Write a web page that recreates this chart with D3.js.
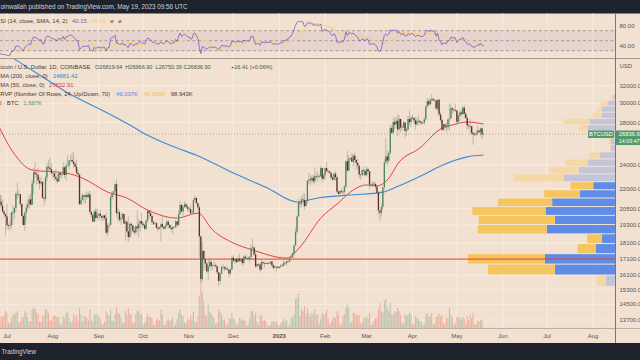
<!DOCTYPE html>
<html><head><meta charset="utf-8">
<script src="https://cdn.jsdelivr.net/npm/d3@7"></script>
<style>html,body{margin:0;padding:0;background:#1e222d;overflow:hidden}</style>
</head><body><svg id="c" width="640" height="360"></svg>
<script>
// ---------------- DATA ----------------
const startDate = "2022-06-24";           // first daily candle
const firstOpen = 21100;
const closes = [
 21230,21500,21030,20730,20280,20100,19930,
 19300,19250,19300,20200,20190,20550,21620,21590,21590,20850,19960,19320,20210,20580,20830,21200,20790,22450,23380,23230,23160,22690,22450,22580,21310,21250,22950,23850,23780,23640,23300,
 23270,22990,22820,22620,23310,23170,23180,23810,23150,23950,23950,24400,24440,24300,24100,23850,23340,23200,20830,21140,21520,21400,21530,21370,21580,20260,20040,19550,20290,19810,20050,
 20130,19950,19830,20000,19800,18790,19290,19320,21370,21650,21830,22400,20170,20230,19700,19800,20110,19420,19540,18880,18490,19400,19300,18920,18800,19220,19080,19410,19590,19420,
 19310,19060,19630,20340,20160,19960,19530,19420,19450,19130,19060,19150,19380,19180,19070,19270,19550,19330,19120,19040,19170,19200,19570,19330,20090,20770,20290,20600,20820,20630,20490,
 20480,20160,20210,21150,21300,20910,20590,18540,15880,17590,17070,16810,16330,16620,16900,16660,16690,16700,16640,16280,15780,16210,16600,16600,16520,16460,16440,16210,16440,17160,
 16980,17090,16890,17110,16970,17090,16840,17230,17130,17130,17090,17210,17780,17810,17360,16630,16780,16740,16440,16900,16830,16820,16780,16840,16830,16920,16700,16550,16630,16600,16540,
 16620,16680,16670,16850,16830,16950,16940,17130,17180,17440,17940,18850,19930,20950,20870,21190,21140,20680,21080,22670,22780,22710,22920,22630,23060,23010,23080,23030,23740,22830,23130,
 23730,23490,23430,23330,22930,22760,23260,22960,21800,21630,21860,21790,21780,22200,24330,23520,24570,24630,24280,24830,24440,24190,23950,23190,23160,23560,23490,23140,
 23650,23470,22360,22350,22430,22410,22200,21710,20360,20190,20630,22140,24200,24760,24380,25060,27430,26970,28040,27780,28170,27300,28350,27480,27490,27990,27140,27270,28350,28030,28480,
 28460,28200,27800,28170,28170,28030,27920,27950,28330,29650,30230,29880,30390,30480,30320,30320,29440,30400,28820,28250,27260,27820,27590,27520,28310,28420,29480,29330,29240,29230,
 28070,28670,29030,28850,29530,28900,28450,27690,27630,27620,26980,26800,26780,26930,27190,27030,27400,26819.64,26836.90
];
const highs = [
 21520,21580,21860,21520,21180,20400,20140,
 20870,19430,19650,20320,20730,20660,21830,22520,21950,21600,20870,20040,20260,20870,21200,21560,21670,22770,23760,24280,23440,23770,22980,23000,22660,21370,23100,24170,24450,24650,24190,
 23500,23450,23650,23230,23460,23360,23400,24230,23930,24220,24900,24450,24880,25050,25210,24250,24450,23600,23200,21370,21700,21520,21680,21820,21800,21850,20360,20150,20420,20580,20490,
 20200,20450,20000,20030,20050,20180,19460,19440,21510,21800,21850,22490,22790,20550,20380,19900,20190,20110,19690,19640,19950,19500,19500,19320,19190,19310,20380,19780,19640,20180,
 19480,19400,19720,20480,20360,20460,20060,19600,19550,19530,19260,19220,19510,19960,19230,19410,19680,19700,19360,19340,19250,19250,19690,19600,20400,21020,20870,20750,21080,20930,20840,
 20690,20790,20390,21290,21480,21370,20940,20700,18590,18150,17650,17070,16880,17190,17130,17010,16740,16950,16800,16730,16310,16260,16680,16800,16610,16690,16600,16480,16530,17250,
 17320,17110,17150,17200,17420,17110,17140,17300,17350,17220,17270,17240,18000,18390,17850,17530,16800,16820,16820,17060,16910,16860,16950,16870,16860,16940,16970,16780,16660,16630,16640,
 16630,16780,16760,16990,16880,16980,16970,17170,17390,17490,17990,19100,19980,21260,21000,21480,21620,21650,21190,22740,23370,23080,23170,23130,23790,23280,23490,23160,23950,23820,23300,
 23800,24250,23600,23550,23440,23150,23360,23450,23000,21900,21900,22070,21900,22320,24370,25250,24900,24690,25090,25000,25130,24480,24600,23890,23200,23670,23890,23600,
 23900,23790,23480,22410,22620,22600,22540,22280,21820,20370,20860,22170,24570,26500,25270,25200,27760,27740,28450,28550,28500,28800,28750,28390,27790,28200,28020,27500,28650,29170,28650,
 28800,28530,28490,28440,28770,28190,28110,28170,28530,29770,30550,30480,30600,31000,30600,30550,30320,30490,30420,29100,28370,27880,27820,28000,28390,30020,29890,29590,29450,29960,
 29340,28890,29270,29380,29700,29840,29070,28650,27830,28320,27640,27050,26990,27200,27660,27270,27480,27480,26966.90
];
const lows = [
 20910,20880,20970,20520,20200,19850,18630,
 19000,19000,18960,19050,19310,19770,20240,21200,21340,20660,19900,19250,18910,19640,20390,20500,20760,20760,21600,22930,22350,22400,21960,22300,21260,20720,21040,22600,23450,23500,23250,
 22850,22660,22700,22440,22600,22930,22850,23150,22880,22680,23860,23600,24300,24150,23780,23700,23180,23080,20780,20790,21100,20900,20910,21150,21320,20130,19820,19540,19550,19570,19800,
 19650,19770,19650,19600,19640,18690,18540,19030,19300,21100,21370,21570,19880,19620,19510,19330,19720,19370,18250,18760,18140,18370,18600,18830,18640,18680,18820,18480,18850,19180,
 19160,18940,19000,19500,19740,19880,19330,19320,19320,19040,18870,18990,18190,19080,18980,19070,19160,19100,19060,18900,18660,19110,19080,19160,19250,20060,20220,20000,20560,20520,20240,
 20340,20060,20050,20180,21080,20880,20390,17170,15660,15760,16360,16550,16230,15820,16540,16380,16420,16610,16550,16170,15476,15620,16160,16460,16350,16400,16400,15990,16100,16430,
 16860,16790,16870,16880,16880,16910,16680,16740,17080,17090,17070,16870,17090,17660,17280,16530,16580,16660,16260,16400,16740,16560,16760,16790,16730,16790,16590,16470,16490,16330,16490,
 16490,16540,16600,16650,16750,16680,16910,16910,17120,17150,17310,17910,18710,19890,20600,20620,20900,20430,20660,20880,22420,22300,22500,22460,22330,22860,22560,22880,23000,22560,22720,
 22760,23380,23220,23270,22780,22640,22740,22680,21690,21460,21590,21640,21360,21530,22050,23500,23370,24450,24270,23850,24150,23600,23620,22870,22730,23050,23110,23030,
 23030,23200,21970,22160,22200,22300,21960,21610,20050,19590,19900,20460,21930,24110,23930,24150,24880,26830,26880,27200,27360,26630,27150,27020,27180,27450,26510,26660,27250,27710,27540,
 28260,27880,27280,27660,27820,27710,27770,27880,27800,28170,29610,29660,29870,29960,30230,30130,29270,29120,28620,28000,27130,27140,27340,26970,27210,27250,28380,28890,29090,29090,
 27680,27880,28120,28680,28810,28410,28400,27270,27350,26800,26740,25820,26690,26600,26730,26880,26600,26380,26750.39
];
const volumes = [ // K BTC
 35,20,20,35,32,38,52,
 45,15,18,30,42,38,45,50,18,20,32,33,50,45,32,20,20,55,60,58,45,40,20,18,35,38,55,55,45,25,22,
 35,38,35,32,33,12,12,35,30,45,48,30,17,22,42,30,38,25,60,40,20,38,35,30,25,55,25,20,40,40,42,
 35,30,12,12,20,50,40,35,55,25,20,40,62,45,42,33,15,18,52,40,58,45,40,15,18,40,52,50,40,42,
 12,15,30,42,35,33,30,10,9,25,28,24,55,40,10,10,25,28,22,25,33,8,15,28,45,55,40,35,18,15,30,
 25,38,28,48,20,18,35,95,140,105,80,40,35,70,48,42,35,28,12,18,55,48,40,25,25,12,10,30,28,45,
 30,25,10,12,30,25,28,25,22,8,10,28,50,50,35,45,18,10,35,40,22,25,20,5,6,10,20,22,18,22,10,
 8,14,20,30,20,25,6,12,30,30,40,85,90,100,35,55,50,65,40,60,45,35,45,40,55,38,40,12,28,45,38,
 45,55,30,10,18,28,32,30,50,40,10,12,35,40,60,70,60,15,20,45,45,40,38,40,15,15,30,30,
 35,28,45,10,12,22,30,30,55,75,50,45,80,85,60,50,75,40,40,50,45,60,50,40,15,15,40,35,40,45,40,
 12,12,35,30,30,22,18,8,12,40,45,35,35,45,12,12,33,35,42,35,38,15,12,30,30,60,40,30,10,15,
 35,30,33,25,33,28,12,35,25,40,30,45,10,12,22,20,25,25,1.687
];
// closes before the visible window (Jun 10 - Jun 23, 2022), used for RSI warm-up
const warmupStart = "2022-06-10";
const warmupCloses = [29080,28400,26580,22480,22140,22580,20380,20450,19000,20550,20700,20500,19970,21100];

// moving averages
const ma200Dates = ["2022-07-06","2022-07-23","2022-08-10","2022-09-07","2022-09-22","2022-10-01","2022-10-24","2022-11-06","2022-12-01","2022-12-24","2023-01-13","2023-01-27","2023-02-18","2023-03-12","2023-03-21","2023-04-08","2023-04-20","2023-05-08","2023-05-19"];
const ma200Values = [35220,33240,31260,28970,27740,26950,25520,24870,23310,22080,21000,21300,21530,21760,22160,23150,23920,24720,24881.42];
const ma50Dates = ["2022-06-24","2022-07-05","2022-07-18","2022-08-10","2022-08-21","2022-09-07","2022-09-20","2022-10-04","2022-10-24","2022-11-07","2022-11-17","2022-12-01","2022-12-14","2023-01-06","2023-01-15","2023-01-29","2023-02-10","2023-02-18","2023-03-01","2023-03-08","2023-03-15","2023-03-23","2023-04-06","2023-04-20","2023-04-28","2023-05-08","2023-05-19"];
const ma50Values = [28060,25160,23570,23310,22890,21760,21300,20390,19810,20170,18970,18100,17650,17140,17840,19810,20930,21760,22330,22250,22730,24260,25520,27340,27740,28040,27832.91];

// visible-range volume profile (24 rows, K BTC)
const vpLow = 15476, vpHigh = 31000;
const vpUp   = [0.63,4.17,4.87,1.32,0.90,4.73,4.17,4.82,4.36,2.43,1.51,3.55,2.50,1.90,1.04,0.28,0.28,0.97,1.90,1.74,0.92,0.92,0.47,0.12];
const vpDown = [0.65,4.64,5.33,1.27,1.02,4.78,5.29,5.08,3.76,2.48,1.57,3.48,2.09,1.53,0.76,0.07,0.14,0.56,0.60,1.79,0.63,0.28,0.51,0.16];
const vpValueArea = [1, 10];   // rows inside the 70% value area

const priceTicks = [32000,30000,28000,24000,22000,20500,19300,18100,17100,16100,15300,14500,13700];
const rsiTicks = [80, 40];
const monthTicks = ["2022-07-01","2022-08-01","2022-09-01","2022-10-01","2022-11-01","2022-12-01","2023-01-01","2023-02-01","2023-03-01","2023-04-01","2023-05-01","2023-06-01","2023-07-01","2023-08-01"];
const monthLabels = ["Jul","Aug","Sep","Oct","Nov","Dec","2023","Feb","Mar","Apr","May","Jun","Jul","Aug"];
const hLineLevel = 17080;
const lastPrice = 26836.90;

// ---------------- DRAW ----------------
const W = 640, H = 360;
const FONT = "'Liberation Sans', Arial, sans-serif";
const BG = "#f2e1d1";
const svg = d3.select("#c");
const P = d3.utcParse("%Y-%m-%d");

const paneR = 615;
const rsiTop = 13.5, rsiBot = 58.3, mainTop = 58.8, mainBot = 328.3, axisBot = 343;

const x = d3.scaleUtc().domain([P("2022-07-01"), P("2023-08-01")]).range([7, 593]);
const y = d3.scaleLog().domain([13700, 32000]).range([320, 85.5]);
const yR = d3.scaleLinear().domain([0, 100]).range([65.7, 15.7]);
const yV = d3.scaleLinear().domain([0, d3.max(volumes)]).range([0, 48]);

svg.append("rect").attr("width", W).attr("height", H).attr("fill", "#1e222d");
svg.append("rect").attr("x", 0).attr("y", rsiTop).attr("width", W).attr("height", axisBot - rsiTop).attr("fill", BG);

const defs = svg.append("defs");
defs.append("clipPath").attr("id", "cm").append("rect").attr("x", 0).attr("y", mainTop).attr("width", paneR).attr("height", mainBot - mainTop);
defs.append("clipPath").attr("id", "cr").append("rect").attr("x", 0).attr("y", rsiTop).attr("width", paneR).attr("height", rsiBot - rsiTop);

// grid
const grid = svg.append("g").attr("stroke", "#f7ece1").attr("stroke-width", 1);
monthTicks.forEach(m => {
  grid.append("line").attr("x1", x(P(m))).attr("x2", x(P(m))).attr("y1", rsiTop).attr("y2", mainBot);
});
priceTicks.forEach(p => grid.append("line").attr("x1", 0).attr("x2", paneR).attr("y1", y(p)).attr("y2", y(p)));

// ---- RSI pane ----
const rsiG = svg.append("g").attr("clip-path", "url(#cr)");
rsiG.append("rect").attr("x", 0).attr("width", paneR).attr("y", yR(70)).attr("height", yR(30) - yR(70)).attr("fill", "rgba(126,87,194,0.09)");
[70, 50, 30].forEach(v => rsiG.append("line").attr("x1", 0).attr("x2", paneR).attr("y1", yR(v)).attr("y2", yR(v))
  .attr("stroke", "#8f8a8a").attr("stroke-width", 0.8).attr("stroke-dasharray", "3,2.5"));

const allC = warmupCloses.concat(closes);
const allD = allC.map((_, i) => d3.utcDay.offset(P(warmupStart), i));
const rsi = new Array(allC.length).fill(null);
let ag = 0, al = 0;
for (let i = 1; i <= 14; i++) { const ch = allC[i] - allC[i - 1]; ag += Math.max(ch, 0); al += Math.max(-ch, 0); }
ag /= 14; al /= 14; rsi[14] = 100 - 100 / (1 + ag / al);
for (let i = 15; i < allC.length; i++) {
  const ch = allC[i] - allC[i - 1];
  ag = (ag * 13 + Math.max(ch, 0)) / 14; al = (al * 13 + Math.max(-ch, 0)) / 14;
  rsi[i] = al === 0 ? 100 : 100 - 100 / (1 + ag / al);
}
const rsiMA = rsi.map((v, i) => (i >= 27) ? d3.mean(rsi.slice(i - 13, i + 1)) : null);
const lineR = d3.line().defined(d => d[1] != null).x(d => x(d[0])).y(d => yR(d[1]));
rsiG.append("path").attr("d", lineR(allD.map((d, i) => [d, rsiMA[i]]))).attr("fill", "none").attr("stroke", "#f3d27c").attr("stroke-width", 1.1);
rsiG.append("path").attr("d", lineR(allD.map((d, i) => [d, rsi[i]]))).attr("fill", "none").attr("stroke", "#7e57c2").attr("stroke-width", 0.8);

// ---- main pane ----
const dates = closes.map((_, i) => d3.utcDay.offset(P(startDate), i));
const opens = closes.map((c, i) => i === 0 ? firstOpen : closes[i - 1]);
const mainG = svg.append("g").attr("clip-path", "url(#cm)");

// volume
mainG.append("g").selectAll("rect").data(dates).join("rect")
  .attr("x", (d) => x(d) - 0.55).attr("width", 1.1)
  .attr("y", (d, i) => mainBot - yV(volumes[i])).attr("height", (d, i) => yV(volumes[i]))
  .attr("fill", (d, i) => closes[i] >= opens[i] ? "rgba(60,150,120,0.33)" : "rgba(235,95,75,0.38)");

// volume profile
const step = (vpHigh - vpLow) / vpUp.length;
const tot = vpUp.map((u, i) => u + vpDown[i]);
const xVP = d3.scaleLinear().domain([0, d3.max(tot)]).range([0, 147]);
const vpG = mainG.append("g");
vpUp.forEach((u, i) => {
  const y0 = y(vpLow + i * step), y1 = y(vpLow + (i + 1) * step);
  const inVA = i >= vpValueArea[0] && i <= vpValueArea[1];
  const wu = xVP(u), wd = xVP(vpDown[i]);
  vpG.append("rect").attr("x", paneR - wu).attr("width", wu).attr("y", y1 + 0.5).attr("height", y0 - y1 - 1)
    .attr("fill", inVA ? "#5f8ce6" : "#c5c5da");
  vpG.append("rect").attr("x", paneR - wu - wd).attr("width", wd).attr("y", y1 + 0.5).attr("height", y0 - y1 - 1)
    .attr("fill", inVA ? "#f6c65e" : "#f5d8a6");
});

// horizontal level line
mainG.append("line").attr("x1", 0).attr("x2", paneR).attr("y1", y(hLineLevel)).attr("y2", y(hLineLevel))
  .attr("stroke", "rgba(236,72,62,0.65)").attr("stroke-width", 1.8);

// last price dotted line
mainG.append("line").attr("x1", 0).attr("x2", paneR).attr("y1", y(lastPrice)).attr("y2", y(lastPrice))
  .attr("stroke", "#a39484").attr("stroke-width", 0.8).attr("stroke-dasharray", "1,2");

// moving averages
const lineP = d3.line().curve(d3.curveMonotoneX).x(d => x(d[0])).y(d => y(d[1]));
mainG.append("path").attr("d", lineP(ma200Dates.map((d, i) => [P(d), ma200Values[i]]))).attr("fill", "none").attr("stroke", "#3b8ad9").attr("stroke-width", 1.1);
mainG.append("path").attr("d", lineP(ma50Dates.map((d, i) => [P(d), ma50Values[i]]))).attr("fill", "none").attr("stroke", "#e5413c").attr("stroke-width", 1);

// candles
const cg = mainG.append("g");
cg.selectAll("line").data(dates).join("line")
  .attr("x1", d => x(d)).attr("x2", d => x(d))
  .attr("y1", (d, i) => y(highs[i])).attr("y2", (d, i) => y(lows[i]))
  .attr("stroke", "#9d9a96").attr("stroke-width", 0.6);
cg.selectAll("rect").data(dates).join("rect")
  .attr("x", d => x(d) - 0.65).attr("width", 1.3)
  .attr("y", (d, i) => y(Math.max(opens[i], closes[i])))
  .attr("height", (d, i) => Math.max(0.6, y(Math.min(opens[i], closes[i])) - y(Math.max(opens[i], closes[i]))))
  .attr("fill", (d, i) => closes[i] >= opens[i] ? "#4a875c" : "#563024");

// ---- frames ----
svg.append("line").attr("x1", 0).attr("x2", W).attr("y1", rsiBot + 0.2).attr("y2", rsiBot + 0.2).attr("stroke", "#a89a8e").attr("stroke-width", 1);
svg.append("line").attr("x1", 0).attr("x2", W).attr("y1", mainBot + 0.2).attr("y2", mainBot + 0.2).attr("stroke", "#bcaea0").attr("stroke-width", 1);
svg.append("line").attr("x1", paneR + 0.5).attr("x2", paneR + 0.5).attr("y1", rsiTop).attr("y2", axisBot).attr("stroke", "#7d7670").attr("stroke-width", 1);

// axis labels
const lab = svg.append("g").attr("font-family", FONT).attr("font-size", 6.0).attr("fill", "#555");
priceTicks.forEach(p => lab.append("text").attr("x", 619.5).attr("y", y(p)).attr("dy", "0.35em").text(p.toFixed(1)));
rsiTicks.forEach(v => lab.append("text").attr("x", 619.5).attr("y", yR(v)).attr("dy", "0.35em").text(v.toFixed(2)));
lab.append("text").attr("x", 619.5).attr("y", 65.5).attr("dy", "0.35em").text("USD");
monthTicks.forEach((m, i) => lab.append("text").attr("x", x(P(m))).attr("y", 336).attr("dy", "0.35em")
  .attr("text-anchor", "middle").attr("font-weight", monthLabels[i] === "2023" ? "bold" : "normal").text(monthLabels[i]));

// price labels
const GREEN = "#4f9b6c";
svg.append("rect").attr("x", 588).attr("y", 130.5).attr("width", 26).attr("height", 7.5).attr("rx", 1).attr("fill", GREEN);
svg.append("text").attr("x", 601).attr("y", 134.3).attr("dy", "0.35em").attr("text-anchor", "middle").attr("font-family", FONT).attr("font-size", 5.8).attr("fill", "#fff").text("BTCUSD");
svg.append("rect").attr("x", 615.5).attr("y", 130.5).attr("width", 25).attr("height", 14.5).attr("fill", GREEN);
svg.append("text").attr("x", 618.8).attr("y", 134.3).attr("dy", "0.35em").attr("font-family", FONT).attr("font-size", 5.8).attr("fill", "#fff").text("26836.9");
svg.append("text").attr("x", 618.8).attr("y", 141.2).attr("dy", "0.35em").attr("font-family", FONT).attr("font-size", 5.4).attr("fill", "#fff").text("14:03:47");

// header & footer
svg.append("text").attr("x", 0.5).attr("y", 7).attr("dy", "0.35em").attr("font-family", FONT).attr("font-size", 6.3).attr("fill", "#d1d4dc")
  .text("oinwallah published on TradingView.com, May 19, 2023 09:56 UTC");
svg.append("text").attr("x", 1.5).attr("y", 351.5).attr("dy", "0.35em").attr("font-family", FONT).attr("font-size", 6.3).attr("fill", "#d1d4dc").text("TradingView");

// legends
const lg = svg.append("g").attr("font-family", FONT).attr("font-size", 5.9).attr("fill", "#3d3a37");
function row(yy, x0, label, parts, fs) {
  lg.append("text").attr("x", x0).attr("y", yy).attr("dy", "0.35em").text(label);
  parts.forEach(p => lg.append("text").attr("x", p[0]).attr("y", yy).attr("dy", "0.35em").attr("fill", p[2]).attr("font-size", fs || 5.9).text(p[1]));
}
row(21, 0.3, "SI (14, close, SMA, 14, 2)", [[72, "40.15", "#7e57c2"], [91, "43.65", "#f3cf72"], [110, "ø", "#555"], [118, "ø", "#555"]]);
row(67, 0.3, "tcoin / U.S. Dollar, 1D, COINBASE", [[95, "O26819.64", "#3b5a45"], [125.3, "H26966.90", "#3b5a45"], [155.6, "L26750.39", "#3b5a45"], [183.5, "C26836.90", "#3b5a45"], [231, "+16.41 (+0.06%)", "#3b5a45"]], 5.55);
row(76, 0.3, "MA (200, close, 0)", [[53, "24881.42", "#2f86d6"]]);
row(85, 0.3, "MA (50, close, 0)", [[49, "27832.91", "#e53935"]]);
row(94, 0.3, "RVP (Number Of Rows, 24, Up/Down, 70)", [[116, "49.037K", "#5b7fe0"], [144, "49.906K", "#f2c14e"], [170.7, "98.943K", "#3d3a37"]]);
row(103, 0.3, "l · BTC", [[23.3, "1.687K", "#3a9a7a"]]);
</script></body></html>
